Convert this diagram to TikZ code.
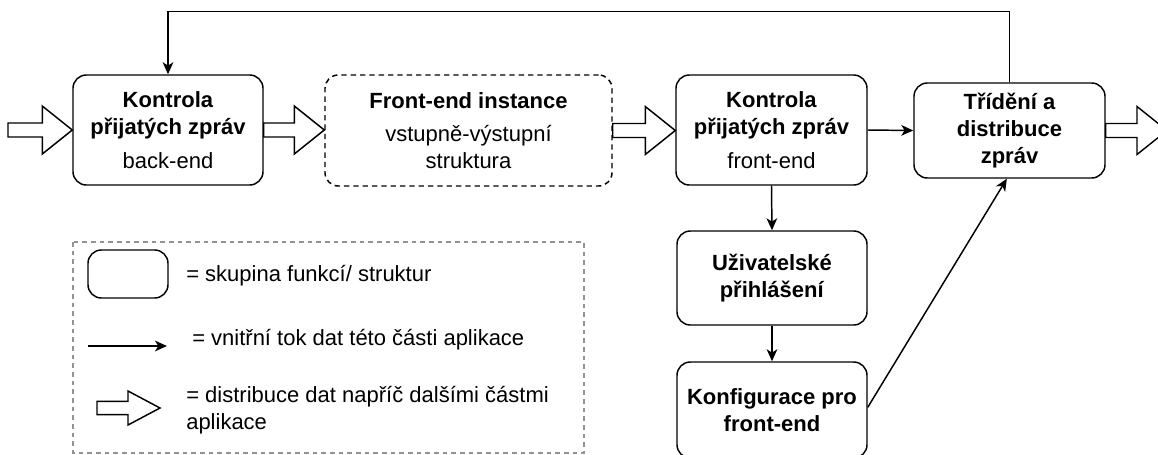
\documentclass[tikz,border=0pt]{standalone}
\usepackage{fontspec}
\setmainfont{Liberation Sans}
\usetikzlibrary{arrows.meta,calc}
\newcommand\blkarrow[5]{\draw[blk] let \p1=(#1), \p2=(#2) in (\x1,\y1+#3) -- (\x2-#5,\y1+#3) -- (\x2-#5,\y1+#4) -- (\x2,\y1) -- (\x2-#5,\y1-#4) -- (\x2-#5,\y1-#3) -- (\x1,\y1-#3) -- cycle;}
\begin{document}
\begin{tikzpicture}[x=0.75pt,y=-0.75pt,
  box/.style={draw, line width=1.1pt, rounded corners=10pt, align=center, inner sep=0pt,
    font=\fontsize{16.5}{20.25}\selectfont},
  dbox/.style={box, dash pattern=on 4pt off 3pt},
  blk/.style={draw, fill=white, line width=1.1pt, line join=miter},
  arr/.style={line width=1.1pt, -{Stealth[length=9pt,width=8pt,inset=2.5pt]}},
  legtext/.style={inner sep=0pt, font=\fontsize{16.5}{20.25}\selectfont},
  legframe/.style={draw=gray!85, line width=0.9pt, dash pattern=on 3.5pt off 3pt}]
\useasboundingbox (0,0) rectangle (1158,454);
\clip (0,0) rectangle (1158,454);

% main boxes
\node[box, minimum width=142.5pt, minimum height=82.5pt] (b1) at (168,130)
  {\textbf{Kontrola}\\\textbf{přijatých zpráv}\\[5pt]back-end};
\node[dbox, minimum width=215.25pt, minimum height=83.25pt] (b2) at (468.5,130.5)
  {\textbf{Front-end instance}\\[5pt]vstupně-výstupní\\struktura};
\node[box, minimum width=143.25pt, minimum height=82.5pt] (b3) at (771.5,130)
  {\textbf{Kontrola}\\\textbf{přijatých zpráv}\\[5pt]front-end};
\node[box, minimum width=143.25pt, minimum height=71.25pt] (b4) at (1009.5,130.5)
  {\textbf{Třídění a}\\\textbf{distribuce}\\\textbf{zpráv}};
\node[box, minimum width=142.5pt, minimum height=70.5pt] (b5) at (772,278)
  {\textbf{Uživatelské}\\\textbf{přihlášení}};
\node[box, minimum width=142.5pt, minimum height=72pt] (b6) at (772,410)
  {\textbf{Konfigurace pro}\\\textbf{front-end}};

\coordinate (in0) at (8,130);
\coordinate (out0) at (1167,130.5);

% block arrows
\blkarrow{in0}{b1.west}{5.25pt}{18pt}{22.5pt}
\blkarrow{b1.east}{b2.west}{5.25pt}{18pt}{22.5pt}
\blkarrow{b2.east}{b3.west}{5.25pt}{18pt}{22.5pt}
\blkarrow{b4.east}{out0}{5.25pt}{18pt}{22.5pt}

% thin arrows
\draw[arr] (b4.north) -- ++(0,-71) -| (b1.north);
\draw[arr] (b3.east) -- (b4.west);
\draw[arr] (b3.south) -- (b5.north);
\draw[arr] (b5.south) -- (b6.north);
\draw[arr] ([yshift=2pt]b6.east) -- ([xshift=-2pt]b4.south);

% legend
\draw[legframe] (73,242) rectangle (584,453);
\node[box, minimum width=60pt, minimum height=36pt] (lg1) at (128,274) {};
\node[legtext, anchor=west] (t1) at (186,276) {= skupina funkcí/ struktur};
\coordinate (la1) at (88,346);
\coordinate (la2) at (167,346);
\draw[arr] (la1) -- (la2);
\node[legtext, anchor=west] (t2) at (192,340) {= vnitřní tok dat této části aplikace};
\coordinate (lb1) at (97,408);
\coordinate (lb2) at (160,408);
\blkarrow{lb1}{lb2}{4.9pt}{12.75pt}{24pt}
\node[legtext, anchor=west, align=left] (t3) at (186,410) {= distribuce dat napříč dalšími částmi\\aplikace};
\end{tikzpicture}
\end{document}
